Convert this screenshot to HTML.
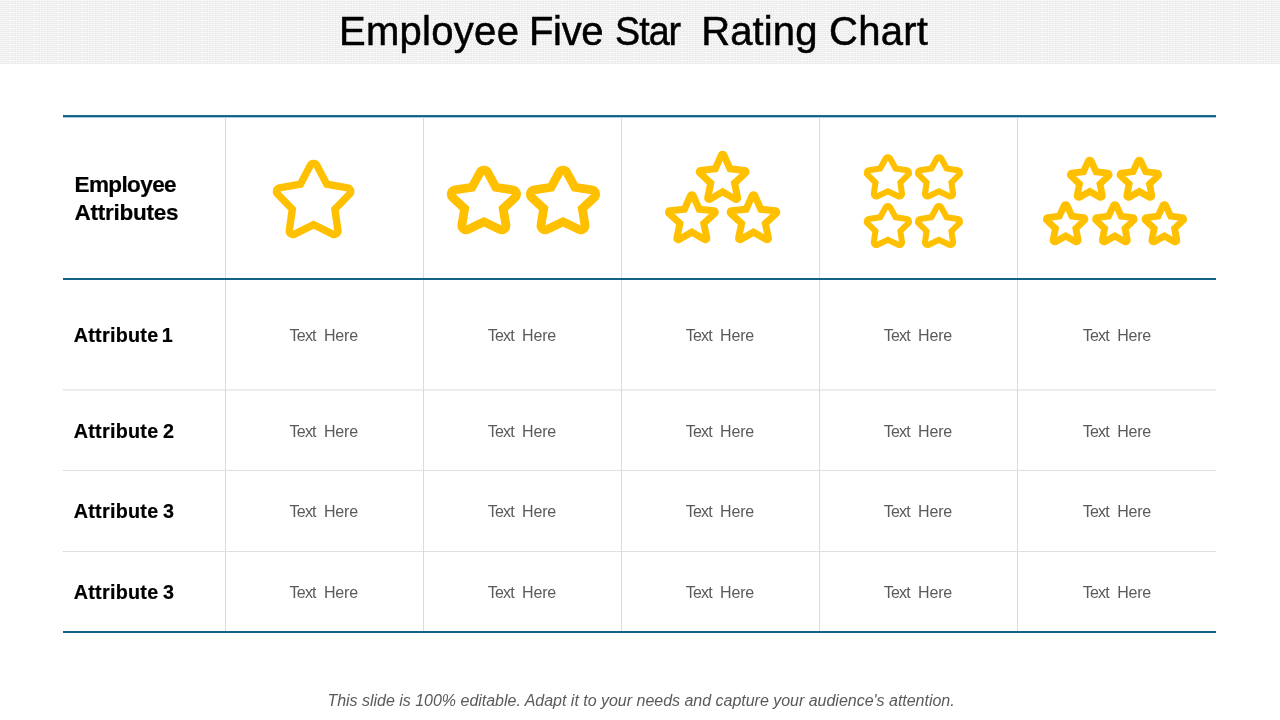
<!DOCTYPE html>
<html lang="en"><head><meta charset="utf-8"><title>Employee Five Star Rating Chart</title>
<style>
html,body{margin:0;padding:0;}
body{width:1280px;height:720px;position:relative;overflow:hidden;background:#fff;font-family:"Liberation Sans",sans-serif;}
.abs{position:absolute;white-space:nowrap;}
#bar{position:absolute;left:0;top:0;width:1280px;height:64px;display:block;}
#title{margin:0;padding:0;font-weight:normal;font-size:40px;}
.tw{display:block;font-weight:normal;position:absolute;top:8px;font-size:40px;line-height:46px;color:#000;white-space:nowrap;-webkit-text-stroke:0.5px #000;}
.hl{position:absolute;left:63px;width:1153px;height:2px;background:#106288;}
.gl{position:absolute;left:63px;width:1153px;height:1px;background:repeating-linear-gradient(to right,#D6D6D6 0 1px,#EAEAEA 1px 2px);}
.vl{position:absolute;top:117px;width:1px;height:514px;background:repeating-linear-gradient(to bottom,#D0D0D0 0 1px,#E6E6E6 1px 2px);}
.hd{font-weight:bold;color:#000;}
.at{left:73.7px;font-size:19.75px;line-height:24px;letter-spacing:0.275px;-webkit-text-stroke:0.2px #000;}
.tx{color:#5a5a5a;font-size:16px;line-height:19px;width:80px;}
.tx .a{letter-spacing:-0.8px;}
.tx .b{position:absolute;left:34.4px;top:0;letter-spacing:-0.2px;}
#ft{position:absolute;left:327.4px;top:691.75px;letter-spacing:-0.015px;font-size:16px;line-height:18px;font-style:italic;color:#5a5a5a;white-space:nowrap;}
</style></head><body>
<svg id="bar" width="1280" height="64" viewBox="0 0 1280 64" shape-rendering="crispEdges"><defs><pattern id="dp" width="6" height="4" patternUnits="userSpaceOnUse"><rect width="6" height="4" fill="#EEEEEE"/><rect x="0" y="0" width="1" height="1" fill="#fff"/><rect x="2" y="0" width="1" height="1" fill="#fff"/><rect x="4" y="0" width="1" height="1" fill="#fff"/><rect x="1" y="2" width="1" height="1" fill="#fff"/><rect x="4" y="2" width="1" height="1" fill="#fff"/></pattern></defs><rect width="1280" height="64" fill="url(#dp)"/></svg>

<h1 id="title"><span class="tw" style="left:339px;letter-spacing:0.286px;">Employee</span> <span class="tw" style="left:529px;letter-spacing:-0.333px;">Five</span> <span class="tw" style="left:615px;letter-spacing:-1px;transform:scaleX(0.94);transform-origin:0 0;">Star</span> <span class="tw" style="left:701.25px;letter-spacing:0.1px;">Rating</span> <span class="tw" style="left:829px;letter-spacing:0.25px;">Chart</span></h1>
<div class="gl" style="top:389px;background:repeating-linear-gradient(to right,#E4E4E4 0 1px,#F5F5F5 1px 2px)"></div>
<div class="gl" style="top:390px;background:repeating-linear-gradient(to right,#F5F5F5 0 1px,#E4E4E4 1px 2px)"></div>
<div class="gl" style="top:470px"></div>
<div class="gl" style="top:551px"></div>
<div class="vl" style="left:225px"></div>
<div class="vl" style="left:423px"></div>
<div class="vl" style="left:621px"></div>
<div class="vl" style="left:819px"></div>
<div class="vl" style="left:1017px"></div>
<div class="hl" style="top:115px;height:3px;background:linear-gradient(to bottom,#1D6A8E 0 1px,#106288 1px 2px,#A9C8D7 2px 3px)"></div>
<div class="hl" style="top:278px"></div>
<div class="hl" style="top:631px"></div>
<div class="abs hd" style="left:74.5px;top:171px;font-size:22.5px;line-height:27.7px;letter-spacing:-0.6px;-webkit-text-stroke:0.2px #000">Employee</div>
<div class="abs hd" style="left:74.6px;top:198.7px;font-size:22.5px;line-height:27.7px;letter-spacing:-0.267px;-webkit-text-stroke:0.2px #000">Attributes</div>
<div class="abs hd at" style="top:322.80px;word-spacing:-2.5px">Attribute 1</div>
<div class="abs tx" style="left:289.6px;top:326.00px"><span class="a">Text</span> <span class="b">Here</span></div>
<div class="abs tx" style="left:487.7px;top:326.00px"><span class="a">Text</span> <span class="b">Here</span></div>
<div class="abs tx" style="left:685.7px;top:326.00px"><span class="a">Text</span> <span class="b">Here</span></div>
<div class="abs tx" style="left:883.7px;top:326.00px"><span class="a">Text</span> <span class="b">Here</span></div>
<div class="abs tx" style="left:1082.8px;top:326.00px"><span class="a">Text</span> <span class="b">Here</span></div>
<div class="abs hd at" style="top:418.60px;word-spacing:-1.2px">Attribute 2</div>
<div class="abs tx" style="left:289.6px;top:421.75px"><span class="a">Text</span> <span class="b">Here</span></div>
<div class="abs tx" style="left:487.7px;top:421.75px"><span class="a">Text</span> <span class="b">Here</span></div>
<div class="abs tx" style="left:685.7px;top:421.75px"><span class="a">Text</span> <span class="b">Here</span></div>
<div class="abs tx" style="left:883.7px;top:421.75px"><span class="a">Text</span> <span class="b">Here</span></div>
<div class="abs tx" style="left:1082.8px;top:421.75px"><span class="a">Text</span> <span class="b">Here</span></div>
<div class="abs hd at" style="top:498.80px;word-spacing:-1.2px">Attribute 3</div>
<div class="abs tx" style="left:289.6px;top:502.00px"><span class="a">Text</span> <span class="b">Here</span></div>
<div class="abs tx" style="left:487.7px;top:502.00px"><span class="a">Text</span> <span class="b">Here</span></div>
<div class="abs tx" style="left:685.7px;top:502.00px"><span class="a">Text</span> <span class="b">Here</span></div>
<div class="abs tx" style="left:883.7px;top:502.00px"><span class="a">Text</span> <span class="b">Here</span></div>
<div class="abs tx" style="left:1082.8px;top:502.00px"><span class="a">Text</span> <span class="b">Here</span></div>
<div class="abs hd at" style="top:579.55px;word-spacing:-1.2px">Attribute 3</div>
<div class="abs tx" style="left:289.6px;top:582.75px"><span class="a">Text</span> <span class="b">Here</span></div>
<div class="abs tx" style="left:487.7px;top:582.75px"><span class="a">Text</span> <span class="b">Here</span></div>
<div class="abs tx" style="left:685.7px;top:582.75px"><span class="a">Text</span> <span class="b">Here</span></div>
<div class="abs tx" style="left:883.7px;top:582.75px"><span class="a">Text</span> <span class="b">Here</span></div>
<div class="abs tx" style="left:1082.8px;top:582.75px"><span class="a">Text</span> <span class="b">Here</span></div>
<svg class="abs" style="left:0;top:0" width="1280" height="720" viewBox="0 0 1280 720" fill="none" stroke="#FFC000" stroke-linejoin="miter" stroke-miterlimit="10">
<path d="M310.33 165.38 A3.70 3.70 0 0 1 316.87 165.38 L326.75 184.15 L347.63 187.78 A3.70 3.70 0 0 1 349.66 194.00 L334.88 209.24 L337.90 230.27 A3.70 3.70 0 0 1 332.60 234.12 L313.60 224.75 L294.60 234.12 A3.70 3.70 0 0 1 289.30 230.27 L292.32 209.24 L277.54 194.00 A3.70 3.70 0 0 1 279.57 187.78 L300.45 184.15 Z" stroke-width="7.4"/>
<path d="M480.03 172.50 A4.40 4.40 0 0 1 487.77 172.50 L495.82 187.34 L512.75 189.87 A4.40 4.40 0 0 1 515.12 197.43 L503.19 208.66 L505.87 224.67 A4.40 4.40 0 0 1 499.63 229.37 L483.90 221.84 L468.17 229.37 A4.40 4.40 0 0 1 461.93 224.67 L464.61 208.66 L452.68 197.43 A4.40 4.40 0 0 1 455.05 189.87 L471.98 187.34 Z" stroke-width="8.8"/>
<path d="M559.13 172.50 A4.40 4.40 0 0 1 566.87 172.50 L574.92 187.34 L591.85 189.87 A4.40 4.40 0 0 1 594.22 197.43 L582.29 208.66 L584.97 224.67 A4.40 4.40 0 0 1 578.73 229.37 L563.00 221.84 L547.27 229.37 A4.40 4.40 0 0 1 541.03 224.67 L543.71 208.66 L531.78 197.43 A4.40 4.40 0 0 1 534.15 189.87 L551.08 187.34 Z" stroke-width="8.8"/>
<path d="M721.28 155.20 A1.50 1.50 0 0 1 724.02 155.20 L730.00 168.83 L744.66 170.40 A1.50 1.50 0 0 1 745.51 173.00 L734.55 183.05 L737.60 197.69 A1.50 1.50 0 0 1 735.38 199.29 L722.65 191.83 L709.92 199.29 A1.50 1.50 0 0 1 707.70 197.69 L710.75 183.05 L699.79 173.00 A1.50 1.50 0 0 1 700.64 170.40 L715.30 168.83 Z" stroke-width="7.0"/>
<path d="M690.48 195.70 A1.50 1.50 0 0 1 693.22 195.70 L699.21 209.27 L713.86 210.83 A1.50 1.50 0 0 1 714.71 213.44 L703.75 223.42 L706.81 237.99 A1.50 1.50 0 0 1 704.58 239.60 L691.85 232.17 L679.12 239.60 A1.50 1.50 0 0 1 676.89 237.99 L679.95 223.42 L668.99 213.44 A1.50 1.50 0 0 1 669.84 210.83 L684.49 209.27 Z" stroke-width="7.0"/>
<path d="M752.13 195.70 A1.50 1.50 0 0 1 754.87 195.70 L760.84 209.27 L775.46 210.83 A1.50 1.50 0 0 1 776.31 213.43 L765.38 223.42 L768.42 237.99 A1.50 1.50 0 0 1 766.20 239.59 L753.50 232.17 L740.80 239.59 A1.50 1.50 0 0 1 738.58 237.99 L741.62 223.42 L730.69 213.43 A1.50 1.50 0 0 1 731.54 210.83 L746.16 209.27 Z" stroke-width="7.0"/>
<path d="M885.62 158.55 A2.60 2.60 0 0 1 890.18 158.55 L895.59 168.46 L906.83 170.33 A2.60 2.60 0 0 1 908.23 174.74 L900.34 182.58 L901.97 193.52 A2.60 2.60 0 0 1 898.28 196.25 L887.90 191.32 L877.52 196.25 A2.60 2.60 0 0 1 873.83 193.52 L875.46 182.58 L867.57 174.74 A2.60 2.60 0 0 1 868.97 170.33 L880.21 168.46 Z" stroke-width="6.0"/>
<path d="M936.72 158.56 A2.60 2.60 0 0 1 941.28 158.56 L946.65 168.44 L957.83 170.32 A2.60 2.60 0 0 1 959.24 174.72 L951.38 182.58 L953.00 193.52 A2.60 2.60 0 0 1 949.30 196.25 L939.00 191.32 L928.70 196.25 A2.60 2.60 0 0 1 925.00 193.52 L926.62 182.58 L918.76 174.72 A2.60 2.60 0 0 1 920.17 170.32 L931.35 168.44 Z" stroke-width="6.0"/>
<path d="M885.62 207.34 A2.60 2.60 0 0 1 890.18 207.34 L895.60 217.18 L906.82 219.04 A2.60 2.60 0 0 1 908.22 223.46 L900.36 231.19 L901.99 242.01 A2.60 2.60 0 0 1 898.31 244.75 L887.90 239.86 L877.49 244.75 A2.60 2.60 0 0 1 873.81 242.01 L875.44 231.19 L867.58 223.46 A2.60 2.60 0 0 1 868.98 219.04 L880.20 217.18 Z" stroke-width="6.0"/>
<path d="M936.72 207.35 A2.60 2.60 0 0 1 941.28 207.35 L946.66 217.17 L957.83 219.03 A2.60 2.60 0 0 1 959.23 223.44 L951.40 231.19 L953.02 242.02 A2.60 2.60 0 0 1 949.33 244.75 L939.00 239.86 L928.67 244.75 A2.60 2.60 0 0 1 924.98 242.02 L926.60 231.19 L918.77 223.44 A2.60 2.60 0 0 1 920.17 219.03 L931.34 217.17 Z" stroke-width="6.0"/>
<path d="M1088.29 161.04 A1.60 1.60 0 0 1 1091.21 161.04 L1096.08 171.73 L1107.69 173.12 A1.60 1.60 0 0 1 1108.59 175.88 L1100.00 183.91 L1102.28 195.49 A1.60 1.60 0 0 1 1099.92 197.19 L1089.75 191.44 L1079.58 197.19 A1.60 1.60 0 0 1 1077.22 195.49 L1079.50 183.91 L1070.91 175.88 A1.60 1.60 0 0 1 1071.81 173.12 L1083.42 171.73 Z" stroke-width="6.8"/>
<path d="M1137.89 161.04 A1.60 1.60 0 0 1 1140.81 161.04 L1145.65 171.72 L1157.19 173.11 A1.60 1.60 0 0 1 1158.10 175.87 L1149.54 183.91 L1151.81 195.49 A1.60 1.60 0 0 1 1149.45 197.19 L1139.35 191.44 L1129.25 197.19 A1.60 1.60 0 0 1 1126.89 195.49 L1129.16 183.91 L1120.60 175.87 A1.60 1.60 0 0 1 1121.51 173.11 L1133.05 171.72 Z" stroke-width="6.8"/>
<path d="M1064.19 205.54 A1.60 1.60 0 0 1 1067.11 205.54 L1071.95 216.22 L1083.49 217.61 A1.60 1.60 0 0 1 1084.40 220.37 L1075.84 228.41 L1078.11 239.99 A1.60 1.60 0 0 1 1075.75 241.69 L1065.65 235.94 L1055.55 241.69 A1.60 1.60 0 0 1 1053.19 239.99 L1055.46 228.41 L1046.90 220.37 A1.60 1.60 0 0 1 1047.81 217.61 L1059.35 216.22 Z" stroke-width="6.8"/>
<path d="M1113.39 205.54 A1.60 1.60 0 0 1 1116.31 205.54 L1121.15 216.22 L1132.69 217.61 A1.60 1.60 0 0 1 1133.60 220.37 L1125.04 228.41 L1127.31 239.99 A1.60 1.60 0 0 1 1124.95 241.69 L1114.85 235.94 L1104.75 241.69 A1.60 1.60 0 0 1 1102.39 239.99 L1104.66 228.41 L1096.10 220.37 A1.60 1.60 0 0 1 1097.01 217.61 L1108.55 216.22 Z" stroke-width="6.8"/>
<path d="M1162.89 205.54 A1.60 1.60 0 0 1 1165.81 205.54 L1170.65 216.22 L1182.19 217.61 A1.60 1.60 0 0 1 1183.10 220.37 L1174.54 228.41 L1176.81 239.99 A1.60 1.60 0 0 1 1174.45 241.69 L1164.35 235.94 L1154.25 241.69 A1.60 1.60 0 0 1 1151.89 239.99 L1154.16 228.41 L1145.60 220.37 A1.60 1.60 0 0 1 1146.51 217.61 L1158.05 216.22 Z" stroke-width="6.8"/>
</svg>
<div id="ft">This slide is 100% editable. Adapt it to your needs and capture your audience's attention.</div>
</body></html>
